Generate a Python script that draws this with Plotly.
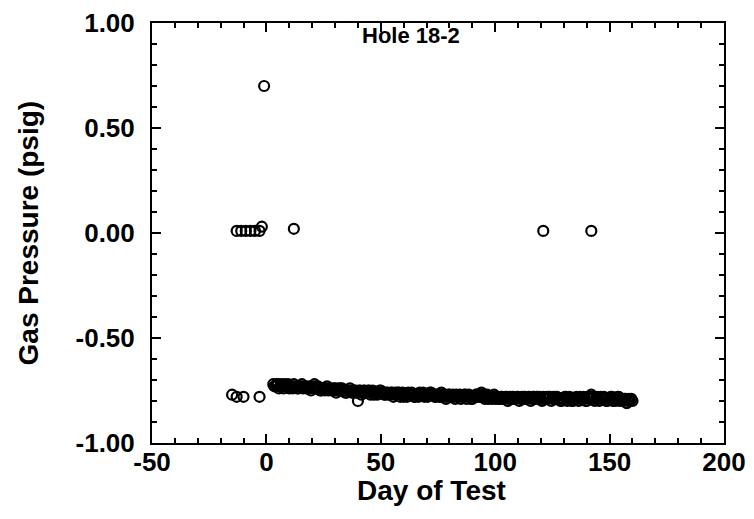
import plotly.graph_objects as go

# ---- data ----
pre_days = [-15, -13, -10, -3]
pre_vals = [-0.77, -0.78, -0.78, -0.78]

zero_days = [-13, -11, -9, -7, -5, -3, -2, 12, 121, 142]
zero_vals = [0.01, 0.01, 0.01, 0.01, 0.01, 0.01, 0.03, 0.02, 0.01, 0.01]

spike_days = [-1]
spike_vals = [0.70]

band_days = list(range(3, 161))
band_vals = [
    -0.72, -0.73, -0.72, -0.73, -0.73, -0.72, -0.73, -0.74, -0.73, -0.72,
    -0.73, -0.74, -0.73, -0.74, -0.73, -0.74, -0.74, -0.73, -0.72, -0.74,
    -0.74, -0.75, -0.74, -0.74, -0.75, -0.74, -0.75, -0.74, -0.75, -0.75,
    -0.74, -0.75, -0.76, -0.75, -0.75, -0.76, -0.75, -0.76, -0.75, -0.76,
    -0.75, -0.76, -0.75, -0.76, -0.77, -0.76, -0.76, -0.75, -0.76, -0.77,
    -0.76, -0.77, -0.76, -0.77, -0.77, -0.76, -0.77, -0.78, -0.77, -0.76,
    -0.77, -0.77, -0.78, -0.77, -0.76, -0.77, -0.78, -0.77, -0.77, -0.76,
    -0.77, -0.78, -0.77, -0.78, -0.77, -0.77, -0.78, -0.77, -0.78, -0.78,
    -0.77, -0.78, -0.79, -0.78, -0.77, -0.78, -0.78, -0.79, -0.78, -0.77,
    -0.78, -0.76, -0.77, -0.78, -0.79, -0.78, -0.78, -0.79, -0.78, -0.79,
    -0.78, -0.79, -0.78, -0.79, -0.79, -0.78, -0.79, -0.78, -0.79, -0.79,
    -0.78, -0.79, -0.78, -0.79, -0.78, -0.78, -0.79, -0.79, -0.78, -0.79,
    -0.79, -0.78, -0.79, -0.79, -0.78, -0.79, -0.80, -0.79, -0.78, -0.79,
    -0.79, -0.80, -0.79, -0.79, -0.78, -0.79, -0.79, -0.80, -0.79, -0.77,
    -0.78, -0.79, -0.79, -0.78, -0.79, -0.79, -0.80, -0.79, -0.78, -0.79,
    -0.79, -0.78, -0.79, -0.80, -0.79, -0.80, -0.80, -0.80,
]

# second daily reading (half-day offset), making the dense band
band2_days = [d + 0.5 for d in range(3, 160)]
band2_vals = [
    -0.73, -0.72, -0.74, -0.72, -0.74, -0.73, -0.72, -0.73, -0.74, -0.73,
    -0.74, -0.73, -0.72, -0.73, -0.74, -0.73, -0.75, -0.74, -0.73, -0.73,
    -0.75, -0.74, -0.75, -0.73, -0.74, -0.75, -0.74, -0.76, -0.74, -0.74,
    -0.75, -0.76, -0.75, -0.74, -0.76, -0.75, -0.76, -0.75, -0.77, -0.75,
    -0.76, -0.75, -0.77, -0.75, -0.76, -0.77, -0.75, -0.76, -0.77, -0.76,
    -0.77, -0.76, -0.78, -0.76, -0.76, -0.78, -0.76, -0.77, -0.78, -0.77,
    -0.76, -0.78, -0.77, -0.78, -0.77, -0.76, -0.77, -0.78, -0.76, -0.77,
    -0.78, -0.77, -0.78, -0.76, -0.78, -0.79, -0.77, -0.78, -0.77, -0.79,
    -0.78, -0.77, -0.78, -0.77, -0.79, -0.77, -0.79, -0.78, -0.77, -0.78,
    -0.77, -0.78, -0.79, -0.77, -0.78, -0.79, -0.77, -0.78, -0.79, -0.78,
    -0.79, -0.78, -0.80, -0.78, -0.78, -0.79, -0.78, -0.80, -0.78, -0.78,
    -0.79, -0.78, -0.80, -0.78, -0.79, -0.78, -0.78, -0.80, -0.79, -0.78,
    -0.78, -0.80, -0.78, -0.78, -0.79, -0.80, -0.79, -0.78, -0.80, -0.78,
    -0.80, -0.79, -0.78, -0.80, -0.79, -0.78, -0.80, -0.78, -0.78, -0.79,
    -0.80, -0.78, -0.80, -0.79, -0.78, -0.80, -0.79, -0.78, -0.80, -0.80,
    -0.78, -0.80, -0.79, -0.79, -0.81, -0.79, -0.79,
]

outlier_days = [40]
outlier_vals = [-0.80]

x_ticks = [-50, 0, 50, 100, 150, 200]
x_tick_text = ["-50", "0", "50", "100", "150", "200"]
y_ticks = [-1.0, -0.5, 0.0, 0.5, 1.0]
y_tick_text = ["-1.00", "-0.50", "0.00", "0.50", "1.00"]

all_x = pre_days + zero_days + spike_days + band_days + band2_days + outlier_days
all_y = pre_vals + zero_vals + spike_vals + band_vals + band2_vals + outlier_vals

FONT = "Liberation Sans, Arial, sans-serif"

fig = go.Figure()
fig.add_trace(go.Scatter(
    x=all_x, y=all_y, mode="markers",
    marker=dict(symbol="circle-open", size=10, color="black",
                line=dict(color="black", width=2.2)),
    showlegend=False, hoverinfo="skip",
))

axis_common = dict(
    showline=True, linecolor="black", linewidth=2, mirror="allticks",
    ticks="inside", tickcolor="black", tickwidth=1.5, ticklen=9,
    showgrid=False, zeroline=False, automargin=False,
    tickfont=dict(family=FONT, size=26, color="black", weight="bold"),
)

fig.update_xaxes(
    range=[-50, 200], tickmode="array", tickvals=x_ticks, ticktext=x_tick_text,
    minor=dict(dtick=10, ticks="inside", ticklen=5, tickcolor="black", tickwidth=1.5),
    ticklabelstandoff=-5,
    **axis_common,
)
fig.update_yaxes(
    range=[-1.0, 1.0], tickmode="array", tickvals=y_ticks, ticktext=y_tick_text,
    minor=dict(dtick=0.1, ticks="inside", ticklen=5, tickcolor="black", tickwidth=1.5),
    ticklabelstandoff=10,
    **axis_common,
)

# axis titles
fig.add_annotation(
    x=0.488, y=-0.112, xref="paper", yref="paper", text="<b>Day of Test</b>",
    showarrow=False, xanchor="center", yanchor="middle",
    font=dict(family=FONT, size=28, color="black"),
)
fig.add_annotation(
    x=-0.216, y=0.50, xref="paper", yref="paper", text="<b>Gas Pressure (psig)</b>",
    showarrow=False, xanchor="center", yanchor="middle", textangle=-90,
    font=dict(family=FONT, size=28, color="black"),
)

fig.add_annotation(
    x=63, y=0.94, xref="x", yref="y", text="<b>Hole 18-2</b>", showarrow=False,
    font=dict(family=FONT, size=22, color="black"),
)

fig.update_layout(
    width=754, height=519,
    margin=dict(l=144, r=38, t=15, b=84),
    paper_bgcolor="white", plot_bgcolor="white",
)

fig.write_html("out.html")
